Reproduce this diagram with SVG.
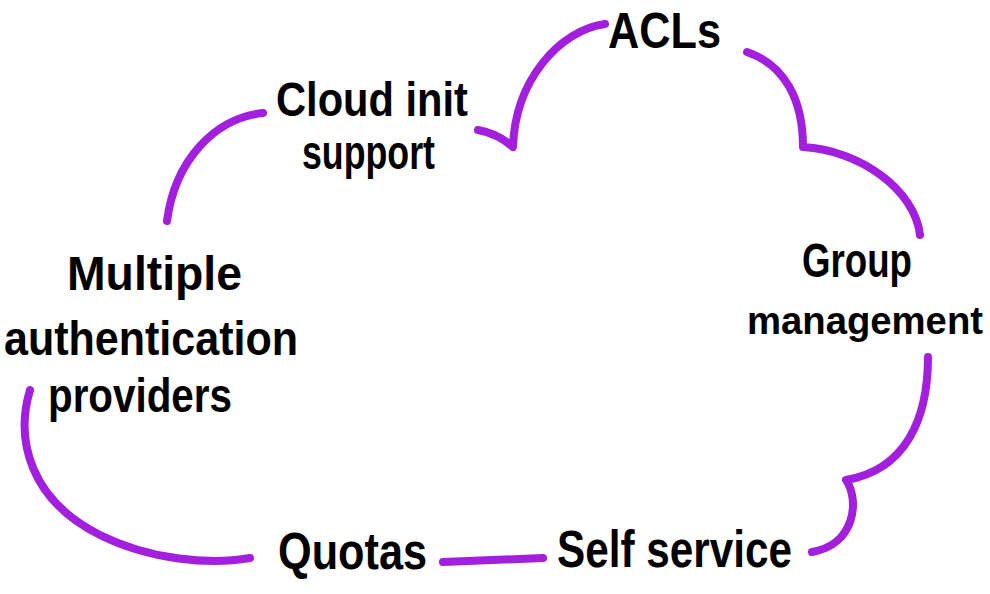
<svg xmlns="http://www.w3.org/2000/svg" width="990" height="594" viewBox="0 0 990 594">
<style>
.arc{fill:none;stroke:#A11FDD;stroke-width:8;stroke-linecap:round;stroke-linejoin:round}
.t{font-family:"Liberation Sans",Arial,sans-serif;font-weight:bold;font-size:48px;fill:#000}
</style>
<rect width="990" height="594" fill="#fff"/>
<g id="connectors">
<path class="arc" d="M167,221 C175,160 215,118 263,113"/>
<path class="arc" d="M478,130 C495,133 505,140 513,147 C515,80 560,30 605,24"/>
<path class="arc" d="M747,52 C785,65 803,100 803,147 C860,150 915,190 920,235"/>
<path class="arc" d="M928,357 C928,420 905,470 846,480 C860,500 855,545 812,552"/>
<path class="arc" d="M443,562 L543,558"/>
<path class="arc" d="M30,390 C15,440 30,500 100,535 C150,560 210,565 250,558"/>
</g>
<g id="acls"><text class="t" x="608" y="48" textLength="113" lengthAdjust="spacingAndGlyphs" style="font-size:50px">ACLs</text></g>
<g id="cloud-init"><text class="t" x="276" y="116" textLength="192" lengthAdjust="spacingAndGlyphs">Cloud init</text><text class="t" x="302" y="169" textLength="133" lengthAdjust="spacingAndGlyphs">support</text></g>
<g id="multiple-auth"><text class="t" x="67" y="290" textLength="175" lengthAdjust="spacingAndGlyphs">Multiple</text><text class="t" x="4" y="355" textLength="294" lengthAdjust="spacingAndGlyphs">authentication</text><text class="t" x="48" y="412" textLength="184" lengthAdjust="spacingAndGlyphs">providers</text></g>
<g id="group-mgmt"><text class="t" x="802" y="277" textLength="110" lengthAdjust="spacingAndGlyphs">Group</text><text class="t" x="747" y="334" textLength="236" lengthAdjust="spacingAndGlyphs" style="font-size:39px">management</text></g>
<g id="quotas"><text class="t" x="278" y="569" textLength="149" lengthAdjust="spacingAndGlyphs" style="font-size:52px">Quotas</text></g>
<g id="self-service"><text class="t" x="557" y="567" textLength="235" lengthAdjust="spacingAndGlyphs" style="font-size:52px">Self service</text></g>
</svg>
